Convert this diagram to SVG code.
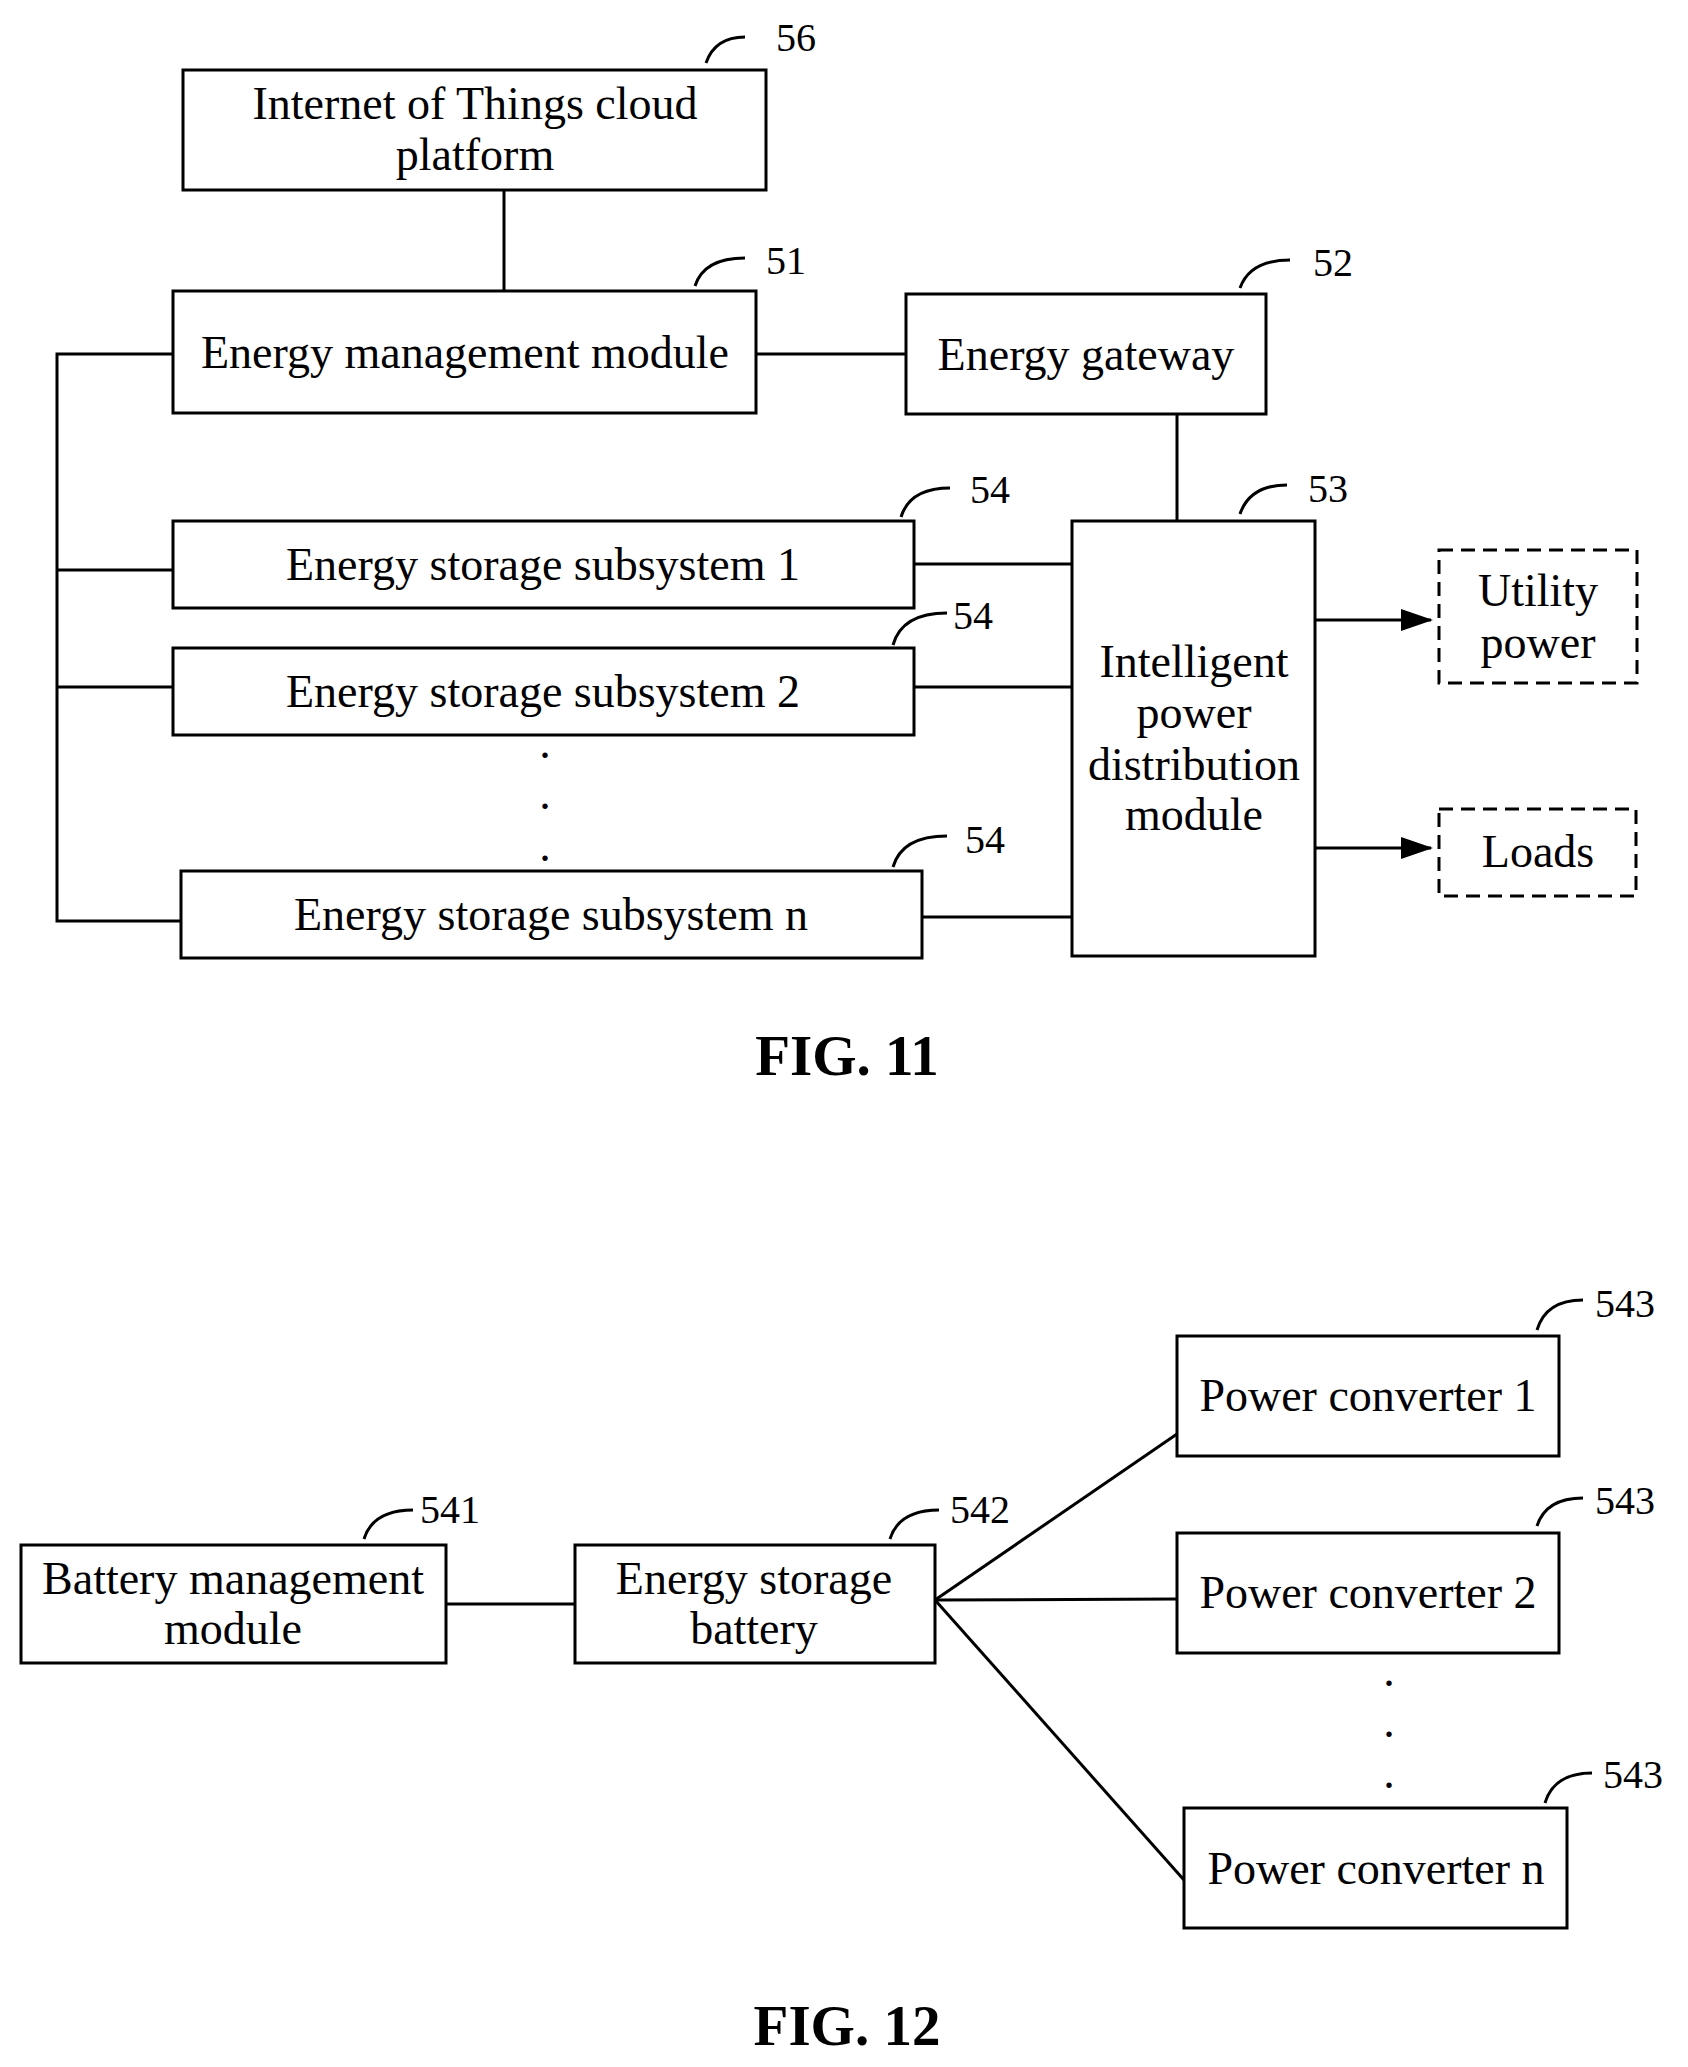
<svg xmlns="http://www.w3.org/2000/svg" width="1688" height="2067" viewBox="0 0 1688 2067">
<style>
rect{fill:none;stroke:#000;stroke-width:3}
.d{stroke-dasharray:14,8}
line,path{stroke:#000;stroke-width:3;fill:none}
path.h{fill:#000;stroke:none}
text{font-family:"Liberation Serif",serif;font-size:46px;text-anchor:middle;dominant-baseline:central}
.l{font-size:40px;text-anchor:start}
.f{font-size:57px;font-weight:bold}
</style>
<defs><marker id="a" markerWidth="32" markerHeight="22" refX="30" refY="11" orient="auto" markerUnits="userSpaceOnUse" viewBox="0 0 32 22"><path class="h" d="M0,0L32,11L0,22z"/></marker></defs>
<g id="connectors">
<line x1="504" y1="190" x2="504" y2="291"/>
<line x1="756" y1="354" x2="906" y2="354"/>
<line x1="1177" y1="414" x2="1177" y2="521"/>
<line x1="914" y1="564" x2="1072" y2="564"/>
<line x1="914" y1="687" x2="1072" y2="687"/>
<line x1="922" y1="917" x2="1072" y2="917"/>
<path d="M173,354H57V921H181M57,570H173M57,687H173"/>
<line x1="1315" y1="620" x2="1431" y2="620" marker-end="url(#a)"/>
<line x1="1315" y1="848" x2="1431" y2="848" marker-end="url(#a)"/>
<line x1="446" y1="1604" x2="575" y2="1604"/>
<line x1="935" y1="1600" x2="1177" y2="1434"/>
<line x1="935" y1="1600" x2="1177" y2="1599"/>
<line x1="935" y1="1600" x2="1184" y2="1880"/>
</g>
<g id="labels">
<path d="M706,63Q715,37 745,37"/><text class="l" x="776" y="37">56</text>
<path d="M695,286Q704,258 745,258"/><text class="l" x="766" y="260">51</text>
<path d="M1240,288Q1250,260 1290,260"/><text class="l" x="1313" y="262">52</text>
<path d="M1240,514Q1250,485 1287,485"/><text class="l" x="1308" y="488">53</text>
<path d="M901,517Q910,488 950,488"/><text class="l" x="970" y="489">54</text>
<path d="M893,645Q902,613 947,613"/><text class="l" x="953" y="615">54</text>
<path d="M893,867Q902,836 947,836"/><text class="l" x="965" y="839">54</text>
<path d="M364,1539Q373,1510 413,1510"/><text class="l" x="420" y="1509">541</text>
<path d="M890,1539Q899,1510 939,1510"/><text class="l" x="950" y="1509">542</text>
<path d="M1537,1330Q1546,1300 1583,1300"/><text class="l" x="1595" y="1303">543</text>
<path d="M1537,1526Q1546,1498 1583,1498"/><text class="l" x="1595" y="1500">543</text>
<path d="M1545,1803Q1554,1773 1592,1773"/><text class="l" x="1603" y="1774">543</text>
</g>
<g id="n56"><rect x="183" y="70" width="583" height="120"/><text x="475" y="103">Internet of Things cloud</text><text x="475" y="154">platform</text></g>
<g id="n51"><rect x="173" y="291" width="583" height="122"/><text x="465" y="352">Energy management module</text></g>
<g id="n52"><rect x="906" y="294" width="360" height="120"/><text x="1086" y="354">Energy gateway</text></g>
<g id="n53"><rect x="1072" y="521" width="243" height="435"/><text x="1194" y="661">Intelligent</text><text x="1194" y="712">power</text><text x="1194" y="764">distribution</text><text x="1194" y="814">module</text></g>
<g id="n54a"><rect x="173" y="521" width="741" height="87"/><text x="543" y="564">Energy storage subsystem 1</text></g>
<g id="n54b"><rect x="173" y="648" width="741" height="87"/><text x="543" y="691">Energy storage subsystem 2</text></g>
<g id="n54n"><rect x="181" y="871" width="741" height="87"/><text x="551" y="914">Energy storage subsystem n</text></g>
<g id="dots1"><text x="545" y="742">.</text><text x="545" y="793">.</text><text x="545" y="845">.</text></g>
<g id="util"><rect class="d" x="1439" y="550" width="198" height="133"/><text x="1538" y="590">Utility</text><text x="1538" y="642">power</text></g>
<g id="loads"><rect class="d" x="1439" y="809" width="197" height="87"/><text x="1538" y="851">Loads</text></g>
<text class="f" x="847" y="1055">FIG. 11</text>
<g id="n541"><rect x="21" y="1545" width="425" height="118"/><text x="233" y="1578">Battery management</text><text x="233" y="1628">module</text></g>
<g id="n542"><rect x="575" y="1545" width="360" height="118"/><text x="754" y="1578">Energy storage</text><text x="754" y="1628">battery</text></g>
<g id="n543a"><rect x="1177" y="1336" width="382" height="120"/><text x="1368" y="1395">Power converter 1</text></g>
<g id="n543b"><rect x="1177" y="1533" width="382" height="120"/><text x="1368" y="1592">Power converter 2</text></g>
<g id="n543n"><rect x="1184" y="1808" width="383" height="120"/><text x="1376" y="1868">Power converter n</text></g>
<g id="dots2"><text x="1389" y="1670">.</text><text x="1389" y="1721">.</text><text x="1389" y="1772">.</text></g>
<text class="f" x="847" y="2025">FIG. 12</text>
</svg>
